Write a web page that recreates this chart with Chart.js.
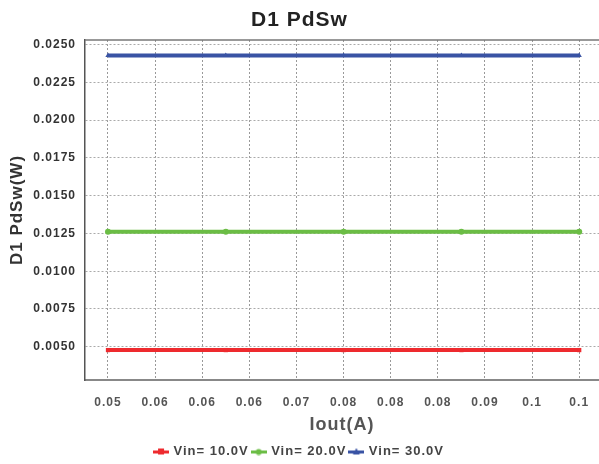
<!DOCTYPE html>
<html lang="en">
<head>
    <meta charset="UTF-8">
    <title>D1 PdSw</title>
    <script src="https://cdn.jsdelivr.net/npm/chart.js@4.4.1/dist/chart.umd.min.js"></script>
    <style>
        body {
            margin: 0;
            background-color: #fff;
        }
        #chart {
            display: block;
        }
    </style>
</head>
<body>
    <canvas id="chart" width="599" height="464"></canvas>
    <script>
        // Iout sweep (A) and switching loss per input voltage (W)
        const iout = [0.05, 0.0625, 0.075, 0.0875, 0.1];
        const vin10 = [0.00478, 0.00478, 0.00478, 0.00478, 0.00478];
        const vin20 = [0.01261, 0.01261, 0.01261, 0.01261, 0.01261];
        const vin30 = [0.02427, 0.02427, 0.02427, 0.02427, 0.02427];

        const xTickValues = [0.05, 0.055, 0.06, 0.065, 0.07, 0.075, 0.08, 0.085, 0.09, 0.095, 0.1];
        const xTickLabels = ['0.05', '0.06', '0.06', '0.06', '0.07', '0.08', '0.08', '0.08', '0.09', '0.1', '0.1'];
        const yTickValues = [0.005, 0.0075, 0.01, 0.0125, 0.015, 0.0175, 0.02, 0.0225, 0.025];
        const yTickLabels = ['0.0050', '0.0075', '0.0100', '0.0125', '0.0150', '0.0175', '0.0200', '0.0225', '0.0250'];

        const seriesNames = ['Vin= 10.0V', 'Vin= 20.0V', 'Vin= 30.0V'];
        const seriesColors = ['#ee2a2e', '#6bbd45', '#3953a4'];
        const seriesMarkers = ['rect', 'circle', 'triangle'];

        // small line + marker icon for the legend
        function legendIcon(color, marker) {
            const c = document.createElement('canvas');
            c.width = 16;
            c.height = 8;
            const g = c.getContext('2d');
            g.fillStyle = color;
            g.fillRect(0, 3, 16, 3);
            g.beginPath();
            if (marker === 'rect') {
                g.rect(5, 1, 6, 6);
            } else if (marker === 'circle') {
                g.arc(8, 4.5, 3, 0, Math.PI * 2);
            } else {
                g.moveTo(8, 0.5);
                g.lineTo(11.5, 7);
                g.lineTo(4.5, 7);
                g.closePath();
            }
            g.fill();
            return c;
        }

        function toPoints(values) {
            return iout.map(function (x, i) { return { x: x, y: values[i] }; });
        }

        const seriesValues = [vin10, vin20, vin30];
        const datasets = seriesValues.map(function (values, i) {
            return {
                label: seriesNames[i],
                data: toPoints(values),
                borderColor: seriesColors[i],
                backgroundColor: seriesColors[i],
                borderWidth: 4,
                pointStyle: seriesMarkers[i],
                pointRadius: 3,
                pointBorderWidth: 0,
                pointBackgroundColor: seriesColors[i],
                tension: 0
            };
        });

        // wider letter spacing like the original plot software
        const spacing = {
            id: 'spacing',
            beforeUpdate(chart) { chart.ctx.letterSpacing = '1px'; },
            beforeDraw(chart) { chart.ctx.letterSpacing = '1px'; }
        };

        // top edge of the plot frame
        const frameTop = {
            id: 'frameTop',
            beforeDatasetsDraw(chart) {
                const a = chart.chartArea;
                const ctx = chart.ctx;
                ctx.save();
                ctx.strokeStyle = '#777';
                ctx.lineWidth = 1.5;
                ctx.beginPath();
                ctx.moveTo(a.left, a.top);
                ctx.lineTo(a.right, a.top);
                ctx.stroke();
                ctx.restore();
            }
        };

        const ctx = document.getElementById('chart').getContext('2d');
        new Chart(ctx, {
            type: 'line',
            data: { datasets: datasets },
            plugins: [spacing, frameTop],
            options: {
                responsive: false,
                animation: false,
                devicePixelRatio: 1,
                layout: { autoPadding: false, padding: { left: 0, right: 0, top: 0, bottom: -4 } },
                plugins: {
                    title: {
                        display: true,
                        text: 'D1 PdSw',
                        color: '#222',
                        font: { family: 'Liberation Sans, Arial, sans-serif', size: 21, weight: 'bold' },
                        padding: { top: 8, bottom: 6.8 }
                    },
                    legend: {
                        position: 'bottom',
                        labels: {
                            color: '#444',
                            font: { family: 'Liberation Sans, Arial, sans-serif', size: 13, weight: 'bold' },
                            usePointStyle: true,
                            pointStyleWidth: 12,
                            boxHeight: 8,
                            padding: 4,
                            generateLabels(chart) {
                                const items = Chart.defaults.plugins.legend.labels.generateLabels(chart);
                                items.forEach(function (item, i) {
                                    item.pointStyle = legendIcon(seriesColors[i], seriesMarkers[i]);
                                });
                                return items;
                            }
                        }
                    },
                    tooltip: { enabled: false }
                },
                scales: {
                    x: {
                        type: 'linear',
                        min: 0.04756,
                        max: 0.1021,
                        afterBuildTicks(axis) {
                            axis.ticks = xTickValues.map(function (v) { return { value: v }; });
                        },
                        afterFit(axis) {
                            axis.height = 61;
                            axis.paddingLeft = 0;
                            axis.paddingRight = 0;
                        },
                        ticks: {
                            autoSkip: false,
                            maxRotation: 0,
                            padding: 15,
                            color: '#555',
                            font: { family: 'Liberation Sans, Arial, sans-serif', size: 12, weight: 'bold' },
                            callback: function (v, i) { return xTickLabels[i]; }
                        },
                        grid: { color: '#999', lineWidth: 1, drawTicks: false },
                        border: { display: true, color: '#888', width: 2, dash: [2, 2] },
                        title: {
                            display: true,
                            text: 'Iout(A)',
                            color: '#555',
                            font: { family: 'Liberation Sans, Arial, sans-serif', size: 18, weight: 'bold' },
                            padding: { top: 0, bottom: 5 }
                        }
                    },
                    y: {
                        type: 'linear',
                        min: 0.0028,
                        max: 0.0253,
                        afterBuildTicks(axis) {
                            axis.ticks = yTickValues.map(function (v) { return { value: v }; });
                        },
                        afterFit(axis) {
                            axis.width = 85;
                            axis.paddingTop = 0;
                            axis.paddingBottom = 0;
                        },
                        ticks: {
                            padding: 9,
                            color: '#333',
                            font: { family: 'Liberation Sans, Arial, sans-serif', size: 12, weight: 'bold' },
                            callback: function (v, i) { return yTickLabels[i]; }
                        },
                        grid: { color: '#aaa', lineWidth: 1, drawTicks: false },
                        border: { display: true, color: '#555', width: 1.5, dash: [2, 2] },
                        title: {
                            display: true,
                            text: 'D1 PdSw(W)',
                            color: '#333',
                            font: { family: 'Liberation Sans, Arial, sans-serif', size: 17, weight: 'bold' },
                            padding: { top: 7, bottom: 0 }
                        }
                    }
                }
            }
        });
    </script>
</body>
</html>
